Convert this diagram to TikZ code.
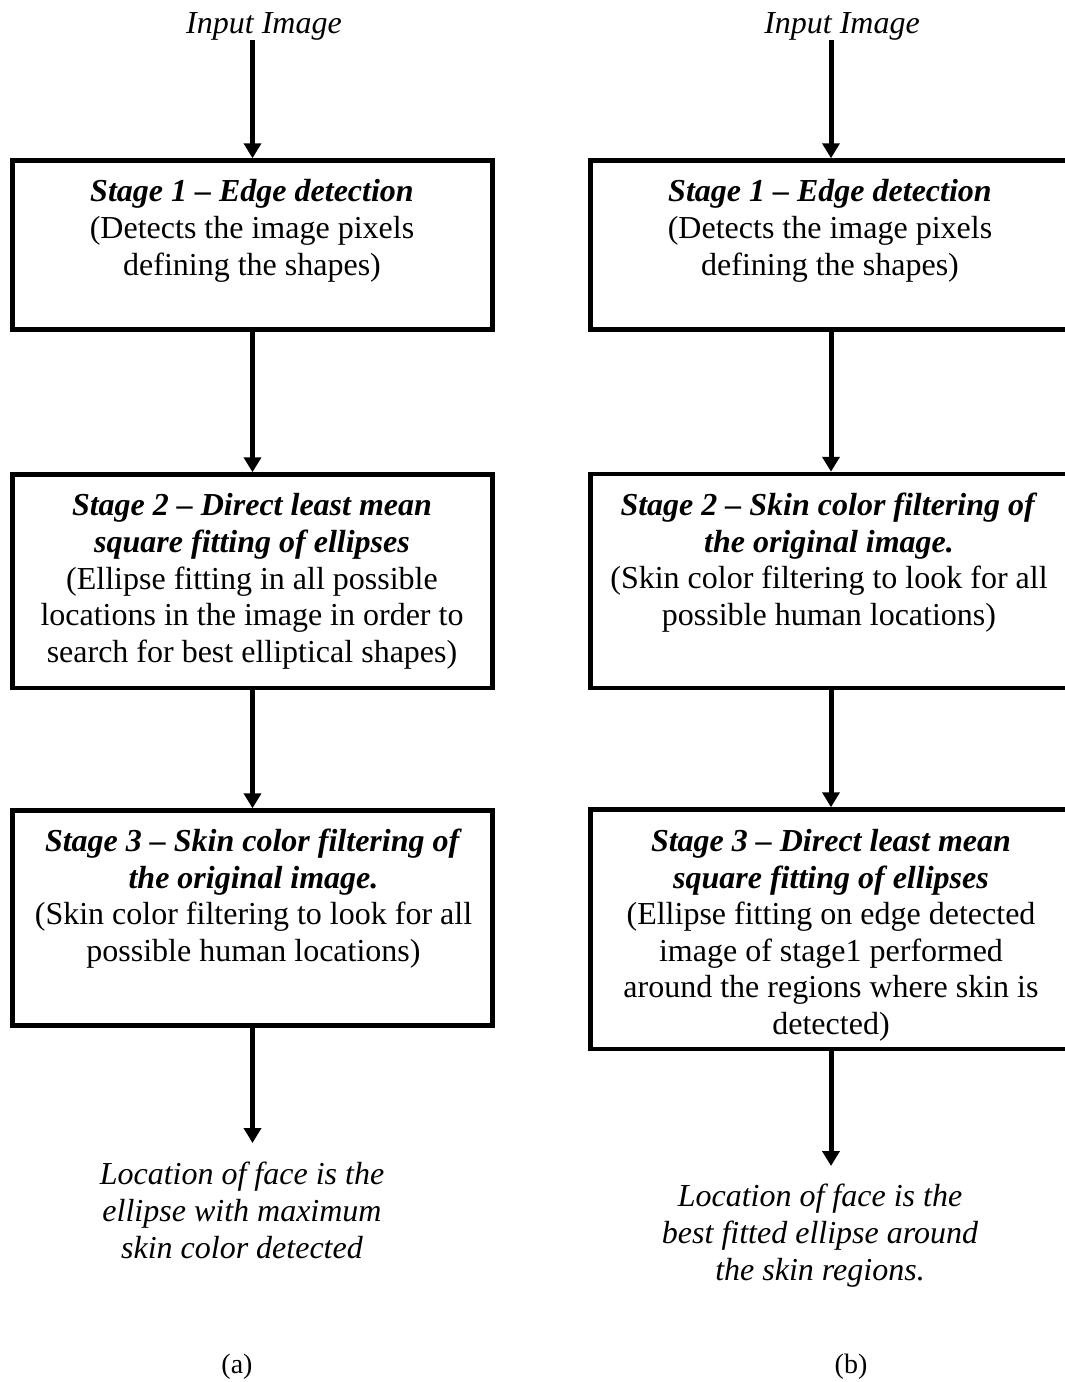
\documentclass[tikz,border=0pt]{standalone}
\usepackage{fontspec}
\setmainfont{Liberation Serif}
\usetikzlibrary{arrows.meta}
\begin{document}
\begin{tikzpicture}[x=1pt,y=-1pt,
  box/.style={draw, line width=4.5pt, inner sep=0pt},
  txt/.style={anchor=north, inner sep=0pt, align=center, font=\fontsize{32}{36.6}\selectfont},
  lbl/.style={inner sep=0pt, align=center, font=\fontsize{32}{37}\selectfont\itshape},
  arr/.style={line width=5pt, -{Triangle[width=17pt,length=15pt]}}]
\clip (0,0) rectangle (1065,1382);
\fill[white] (0,0) rectangle (1065,1382);

% ---------- (a) ----------
\node[lbl, anchor=north] (inL) at (264,12) {Input Image};
\node[box, minimum width=480pt, minimum height=169pt] (b1l) at (252.5,245) {};
\node[box, minimum width=480pt, minimum height=213.5pt] (b2l) at (252.5,581.25) {};
\node[box, minimum width=480pt, minimum height=215pt] (b3l) at (252.5,918) {};

\node[txt] (t1l) at (252,179.5) {\textbf{\textit{Stage 1 – Edge detection}}\\(Detects the image pixels\\defining the shapes)};
\node[txt] (t2l) at (252,493.5) {\textbf{\textit{Stage 2 – Direct least mean}}\\\textbf{\textit{square fitting of ellipses}}\\(Ellipse fitting in all possible\\locations in the image in order to\\search for best elliptical shapes)};
\node[txt] (t3l) at (253.5,829) {\textbf{\textit{Stage 3 – Skin color filtering of}}\\\textbf{\textit{the original image.}}\\(Skin color filtering to look for all\\possible human locations)};

\node[lbl, anchor=north] (outL) at (242,1162) {Location of face is the\\ellipse with maximum\\skin color detected};
\coordinate (tipL) at (252.5,1143);

\draw[arr] (b1l.north |- inL.south) -- (b1l.north);
\draw[arr] (b1l.south) -- (b2l.north);
\draw[arr] (b2l.south) -- (b3l.north);
\draw[arr] (b3l.south) -- (tipL);

\node[inner sep=0pt, anchor=base, font=\fontsize{28}{32}\selectfont] (capA) at (237,1373) {(a)};

% ---------- (b) ----------
\node[lbl, anchor=north] (inR) at (842,12) {Input Image};
\node[box, minimum width=481pt, minimum height=169pt] (b1r) at (831,245) {};
\node[box, minimum width=481pt, minimum height=214pt] (b2r) at (831,581) {};
\node[box, minimum width=481pt, minimum height=239.5pt] (b3r) at (831,929.25) {};

\node[txt] (t1r) at (830,179.5) {\textbf{\textit{Stage 1 – Edge detection}}\\(Detects the image pixels\\defining the shapes)};
\node[txt] (t2r) at (829,493) {\textbf{\textit{Stage 2 – Skin color filtering of}}\\\textbf{\textit{the original image.}}\\(Skin color filtering to look for all\\possible human locations)};
\node[txt] (t3r) at (831,829) {\textbf{\textit{Stage 3 – Direct least mean}}\\\textbf{\textit{square fitting of ellipses}}\\(Ellipse fitting on edge detected\\image of stage1 performed\\around the regions where skin is\\detected)};

\node[lbl, anchor=north] (outR) at (820,1184) {Location of face is the\\best fitted ellipse around\\the skin regions.};
\coordinate (tipR) at (831,1166);

\draw[arr] (b1r.north |- inR.south) -- (b1r.north);
\draw[arr] (b1r.south) -- (b2r.north);
\draw[arr] (b2r.south) -- (b3r.north);
\draw[arr] (b3r.south) -- (tipR);

\node[inner sep=0pt, anchor=base, font=\fontsize{28}{32}\selectfont] (capB) at (851,1373) {(b)};
\end{tikzpicture}
\end{document}
